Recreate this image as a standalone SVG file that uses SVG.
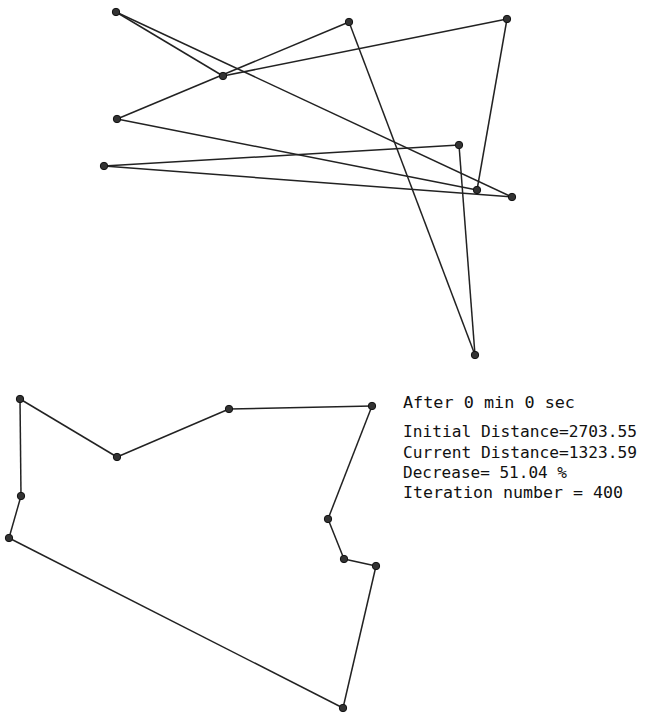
<svg xmlns="http://www.w3.org/2000/svg" width="645" height="713" viewBox="0 0 645 713">
<style>
.e{stroke:#222;stroke-width:1.5;fill:none}
.n{fill:#333;stroke:#111;stroke-width:1}
.t{font-family:"DejaVu Sans Mono","Liberation Mono",monospace;font-size:15px;fill:#111}
</style>
<rect width="645" height="713" fill="#fff"/>
<g id="connectors">
<g id="tour-initial">
<line class="e" x1="116" y1="12" x2="223" y2="76"/>
<line class="e" x1="223" y1="76" x2="507" y2="19"/>
<line class="e" x1="507" y1="19" x2="477" y2="190"/>
<line class="e" x1="477" y1="190" x2="117" y2="119"/>
<line class="e" x1="117" y1="119" x2="349" y2="22"/>
<line class="e" x1="349" y1="22" x2="475" y2="355"/>
<line class="e" x1="475" y1="355" x2="459" y2="145"/>
<line class="e" x1="459" y1="145" x2="104" y2="166"/>
<line class="e" x1="104" y1="166" x2="512" y2="197"/>
<line class="e" x1="512" y1="197" x2="116" y2="12"/>
</g>
<g id="tour-current">
<line class="e" x1="20" y1="399" x2="117" y2="457"/>
<line class="e" x1="117" y1="457" x2="229" y2="409"/>
<line class="e" x1="229" y1="409" x2="372" y2="406"/>
<line class="e" x1="372" y1="406" x2="328" y2="519"/>
<line class="e" x1="328" y1="519" x2="344" y2="559"/>
<line class="e" x1="344" y1="559" x2="376" y2="566"/>
<line class="e" x1="376" y1="566" x2="343" y2="708"/>
<line class="e" x1="343" y1="708" x2="9" y2="538"/>
<line class="e" x1="9" y1="538" x2="21" y2="496"/>
<line class="e" x1="21" y1="496" x2="20" y2="399"/>
</g>
</g>
<g id="a1"><circle class="n" cx="116" cy="12" r="3.7"/></g>
<g id="a2"><circle class="n" cx="349" cy="22" r="3.7"/></g>
<g id="a3"><circle class="n" cx="507" cy="19" r="3.7"/></g>
<g id="a4"><circle class="n" cx="223" cy="76" r="3.7"/></g>
<g id="a5"><circle class="n" cx="117" cy="119" r="3.7"/></g>
<g id="a6"><circle class="n" cx="104" cy="166" r="3.7"/></g>
<g id="a7"><circle class="n" cx="459" cy="145" r="3.7"/></g>
<g id="a8"><circle class="n" cx="477" cy="190" r="3.7"/></g>
<g id="a9"><circle class="n" cx="512" cy="197" r="3.7"/></g>
<g id="a10"><circle class="n" cx="475" cy="355" r="3.7"/></g>
<g id="b1"><circle class="n" cx="20" cy="399" r="3.7"/></g>
<g id="b2"><circle class="n" cx="117" cy="457" r="3.7"/></g>
<g id="b3"><circle class="n" cx="229" cy="409" r="3.7"/></g>
<g id="b4"><circle class="n" cx="21" cy="496" r="3.7"/></g>
<g id="b5"><circle class="n" cx="9" cy="538" r="3.7"/></g>
<g id="b6"><circle class="n" cx="372" cy="406" r="3.7"/></g>
<g id="b7"><circle class="n" cx="328" cy="519" r="3.7"/></g>
<g id="b8"><circle class="n" cx="344" cy="559" r="3.7"/></g>
<g id="b9"><circle class="n" cx="376" cy="566" r="3.7"/></g>
<g id="b10"><circle class="n" cx="343" cy="708" r="3.7"/></g>
<g id="stats">
<text class="t" x="403" y="408" textLength="172" lengthAdjust="spacingAndGlyphs">After 0 min 0 sec</text>
<text class="t" x="403" y="437" textLength="234" lengthAdjust="spacingAndGlyphs">Initial Distance=2703.55</text>
<text class="t" x="403" y="458" textLength="234" lengthAdjust="spacingAndGlyphs">Current Distance=1323.59</text>
<text class="t" x="403" y="478" textLength="164" lengthAdjust="spacingAndGlyphs">Decrease= 51.04 %</text>
<text class="t" x="403" y="498" textLength="220" lengthAdjust="spacingAndGlyphs">Iteration number = 400</text>
</g>
</svg>
